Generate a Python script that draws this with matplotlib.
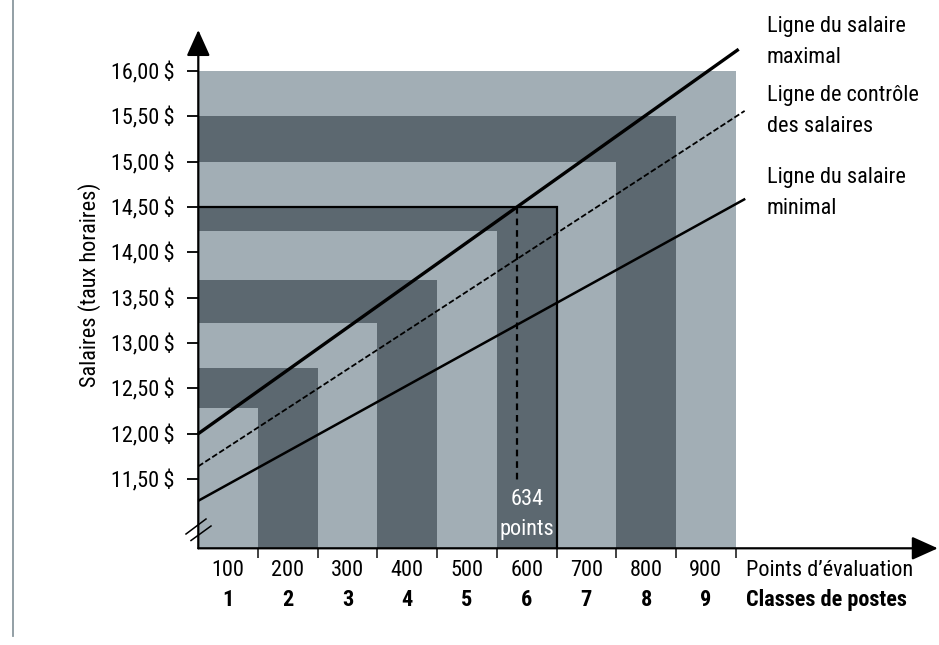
import matplotlib
matplotlib.use("Agg")
import matplotlib.pyplot as plt
from matplotlib import font_manager as fm
from matplotlib.lines import Line2D

# ---------------- data ----------------
classes = [1, 2, 3, 4, 5, 6, 7, 8, 9]
point_labels = ["100", "200", "300", "400", "500", "600", "700", "800", "900"]
class_labels = ["1", "2", "3", "4", "5", "6", "7", "8", "9"]
class_tops = [12.28, 12.72, 13.22, 13.70, 14.23, 14.50, 15.00, 15.50, 16.00]
salary_ticks = [11.50, 12.00, 12.50, 13.00, 13.50, 14.00, 14.50, 15.00, 15.50, 16.00]

max_line_x = [0.0, 9.05]
max_line_y = [12.00, 16.24]
ctrl_line_x = [0.0, 9.15]
ctrl_line_y = [11.64, 15.56]
min_line_x = [0.0, 9.16]
min_line_y = [11.26, 14.59]

selected_salary = 14.50
selected_class = 6
selected_points_text = "634\npoints"

# ---------------- fonts ----------------
names = {f.name for f in fm.fontManager.ttflist}
font_kw = None
for cand in ["Roboto Condensed", "Liberation Sans Narrow", "Open Sans Condensed"]:
    if cand in names:
        font_kw = {"family": [cand, "DejaVu Sans"]}
        break
if font_kw is None:
    font_kw = {"family": ["DejaVu Sans"], "stretch": "condensed"}

FS = 16
LIGHT = "#a2aeb5"
DARK = "#5c6870"

# ---------------- figure / axes ----------------
W, H = 939, 645
fig = plt.figure(figsize=(W / 100, H / 100), dpi=100)
x0_px, y0_px = 198.3, 548.3
cls_px = 59.71
usd_px = 90.67
ax = fig.add_axes([x0_px / W, (H - y0_px) / H, (W - x0_px) / W, y0_px / H])
ybot = 11.50 - (y0_px - 479.0) / usd_px
ytop = 16.00 + 71.0 / usd_px
xright = (W - x0_px) / cls_px
ax.set_xlim(0, xright)
ax.set_ylim(ybot, ytop)
for s in ax.spines.values():
    s.set_visible(False)
ax.patch.set_alpha(0)

# nested class rectangles (largest first)
for i in range(len(classes) - 1, -1, -1):
    c = classes[i]
    col = LIGHT if c % 2 == 1 else DARK
    ax.bar(0, class_tops[i] - ybot, width=c, bottom=ybot, align="edge",
           color=col, edgecolor="none", zorder=1)

# salary lines
ax.plot(max_line_x, max_line_y, color="black", lw=2.4, zorder=4,
        clip_on=False, solid_capstyle="butt")
ax.plot(ctrl_line_x, ctrl_line_y, color="black", lw=1.3, zorder=4,
        clip_on=False, dashes=(3.2, 1.4))
ax.plot(min_line_x, min_line_y, color="black", lw=1.8, zorder=4,
        clip_on=False, solid_capstyle="butt")

# selected job: 14.50 $ box
ax.plot([0, selected_class, selected_class], [selected_salary, selected_salary, ybot],
        color="black", lw=1.6, zorder=4, solid_joinstyle="miter")
slope = (max_line_y[1] - max_line_y[0]) / (max_line_x[1] - max_line_x[0])
sel_x = (selected_salary - max_line_y[0]) / slope
ax.plot([sel_x, sel_x], [selected_salary, 11.46], color="black", lw=1.6,
        dashes=(3.0, 2.2), zorder=4)
ax.text(selected_class - 0.5, 11.11, selected_points_text, color="white",
        ha="center", va="center", fontsize=FS, linespacing=1.55, zorder=5, **font_kw)

# axes with arrows
ax.annotate("", xy=(0, 16.0 + 41.0 / usd_px), xytext=(0, ybot),
            arrowprops=dict(arrowstyle="-|>,head_length=0.8,head_width=0.36",
                            mutation_scale=20, lw=1.6, color="black",
                            shrinkA=0, shrinkB=0), annotation_clip=False, zorder=6)
ax.annotate("", xy=(xright - 0.02, ybot), xytext=(0, ybot),
            arrowprops=dict(arrowstyle="-|>,head_length=0.8,head_width=0.36",
                            mutation_scale=20, lw=1.6, color="black",
                            shrinkA=0, shrinkB=0), annotation_clip=False, zorder=6)

# axis break marks
for dx in (0.0, 5.0):
    bx0 = (186 + dx - x0_px) / cls_px
    bx1 = (206 + dx - x0_px) / cls_px
    by0 = ybot + (548.3 - 534 - dx * 1.3) / usd_px
    by1 = ybot + (548.3 - 519 - dx * 1.4) / usd_px
    ax.plot([bx0, bx1], [by0, by1], color="black", lw=1.1, clip_on=False, zorder=6)

# ticks
ax.set_yticks(salary_ticks)
ax.set_yticklabels([f"{v:.2f}".replace(".", ",") + "\u2009$" for v in salary_ticks])
ax.tick_params(axis="y", direction="out", length=8, width=1.3, pad=9, labelsize=FS)
ax.set_xticks(classes)
ax.set_xticklabels([])
ax.tick_params(axis="x", direction="out", length=7, width=1.3, color="#333333")
for lab in ax.get_yticklabels():
    lab.set_fontfamily(font_kw["family"])
    if "stretch" in font_kw:
        lab.set_fontstretch(font_kw["stretch"])

xtr = ax.get_xaxis_transform()
for i, c in enumerate(classes):
    ax.text(c - 0.5, -22 / y0_px, point_labels[i], transform=xtr, ha="center",
            va="center", fontsize=FS, **font_kw)
    ax.text(c - 0.5, -52 / y0_px, class_labels[i], transform=xtr, ha="center",
            va="center", fontsize=FS, fontweight="bold", **font_kw)
ax.text(9.18, -22 / y0_px, "Points d’évaluation", transform=xtr, ha="left",
        va="center", fontsize=FS, **font_kw)
ax.text(9.18, -52 / y0_px, "Classes de postes", transform=xtr, ha="left",
        va="center", fontsize=FS, fontweight="bold", **font_kw)

ax.set_ylabel("Salaires (taux horaires)", fontsize=FS, **font_kw)
ax.yaxis.set_label_coords(-97 / (W - x0_px), (y0_px - 285) / y0_px)

# right-hand line labels
for txt, ypx in [("Ligne du salaire\nmaximal", 42),
                 ("Ligne de contrôle\ndes salaires", 111),
                 ("Ligne du salaire\nminimal", 193)]:
    fig.text(767 / W, 1 - ypx / H, txt, ha="left", va="center", fontsize=FS,
             linespacing=1.6, **font_kw)

# left border line
fig.add_artist(Line2D([13 / W, 13 / W], [1 - 636 / H, 1.0], color="#8a979e", lw=1.3))

fig.savefig("out.png", dpi=100)
